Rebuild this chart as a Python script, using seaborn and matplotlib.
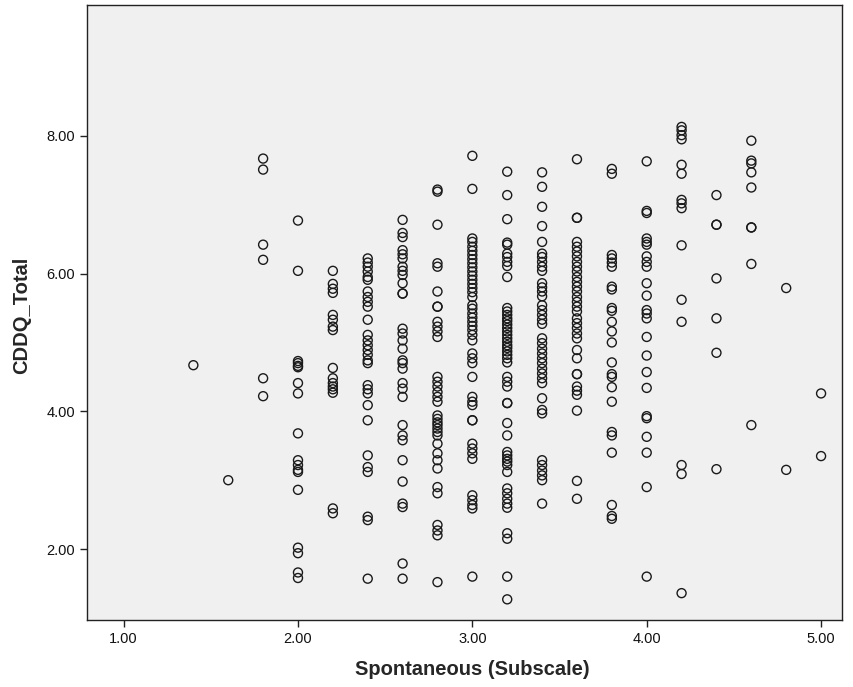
import numpy as np
import pandas as pd
import matplotlib
matplotlib.use("Agg")
import matplotlib.pyplot as plt
import seaborn as sns

# Spontaneous (Subscale) levels and CDDQ_Total values read from each column
x_levels = [1.4, 1.6, 1.8, 2.0, 2.2, 2.4, 2.6, 2.8, 3.0, 3.2, 3.4, 3.6, 3.8, 4.0, 4.2, 4.4, 4.6, 4.8, 5.0]

y_1_4 = [4.67]
y_1_6 = [3.00]
y_1_8 = [7.67, 7.51, 6.42, 6.20, 4.48, 4.22]
y_2_0 = [6.77, 6.04, 4.73, 4.70, 4.66, 4.64, 4.41, 4.26, 3.68, 3.29, 3.22, 3.15, 3.12,
         2.86, 2.02, 1.94, 1.66, 1.58]
y_2_2 = [6.04, 5.85, 5.78, 5.72, 5.40, 5.33, 5.23, 5.18, 4.63, 4.48, 4.41, 4.36, 4.32,
         4.27, 2.59, 2.52]
y_2_4 = [6.22, 6.16, 6.10, 6.03, 5.95, 5.91, 5.74, 5.66, 5.59, 5.52, 5.33, 5.11, 5.03,
         4.96, 4.89, 4.82, 4.74, 4.70, 4.38, 4.32, 4.26, 4.09, 3.87, 3.36, 3.19, 3.12,
         2.47, 2.42, 1.57]
y_2_6 = [6.78, 6.59, 6.53, 6.34, 6.28, 6.22, 6.10, 6.04, 5.98, 5.86, 5.71, 5.71, 5.20,
         5.13, 5.03, 4.91, 4.74, 4.70, 4.62, 4.41, 4.33, 4.21, 3.80, 3.65, 3.58, 3.29,
         2.98, 2.66, 2.61, 1.79, 1.57]
y_2_8 = [7.22, 7.19, 6.71, 6.15, 6.10, 5.74, 5.52, 5.52, 5.30, 5.23, 5.16, 5.08, 4.50,
         4.43, 4.36, 4.28, 4.21, 4.14, 3.94, 3.89, 3.84, 3.80, 3.75, 3.70, 3.65, 3.53,
         3.39, 3.29, 3.17, 2.90, 2.81, 2.35, 2.27, 2.20, 1.52]
y_3_0 = [7.71, 7.23, 6.51, 6.46, 6.39, 6.33, 6.27, 6.21, 6.15, 6.09, 6.03, 5.97, 5.91,
         5.85, 5.79, 5.73, 5.66, 5.54, 5.49, 5.42, 5.36, 5.30, 5.24, 5.18, 5.11, 5.03,
         4.84, 4.77, 4.70, 4.50, 4.21, 4.14, 4.09, 3.87, 3.87, 3.53, 3.46, 3.39, 3.31,
         2.78, 2.71, 2.64, 2.59, 1.60]
y_3_2 = [7.48, 7.14, 6.79, 6.45, 6.42, 6.29, 6.24, 6.17, 6.11, 5.95, 5.50, 5.45, 5.40,
         5.35, 5.31, 5.26, 5.21, 5.16, 5.11, 5.06, 5.01, 4.96, 4.92, 4.87, 4.82, 4.77,
         4.71, 4.50, 4.43, 4.36, 4.12, 4.12, 3.83, 3.65, 3.41, 3.36, 3.31, 3.27, 3.22,
         3.12, 2.88, 2.81, 2.73, 2.66, 2.60, 2.23, 2.15, 1.60, 1.27]
y_3_4 = [7.47, 7.26, 6.97, 6.69, 6.46, 6.29, 6.24, 6.17, 6.10, 6.04, 5.86, 5.80, 5.74,
         5.67, 5.54, 5.47, 5.40, 5.33, 5.27, 5.06, 4.99, 4.91, 4.84, 4.77, 4.70, 4.62,
         4.55, 4.48, 4.41, 4.19, 4.02, 3.97, 3.29, 3.22, 3.14, 3.07, 3.00, 2.66]
y_3_6 = [7.66, 6.81, 6.81, 6.46, 6.39, 6.32, 6.25, 6.17, 6.10, 6.03, 5.95, 5.88, 5.81,
         5.74, 5.66, 5.59, 5.52, 5.45, 5.35, 5.28, 5.21, 5.13, 5.06, 4.89, 4.77, 4.54,
         4.54, 4.36, 4.30, 4.24, 4.01, 2.99, 2.73]
y_3_8 = [7.52, 7.45, 6.27, 6.22, 6.16, 6.10, 5.81, 5.77, 5.50, 5.46, 5.30, 5.16, 5.00,
         4.71, 4.54, 4.50, 4.35, 4.14, 3.70, 3.65, 3.40, 2.64, 2.48, 2.44]
y_4_0 = [7.63, 6.91, 6.88, 6.51, 6.46, 6.42, 6.25, 6.17, 6.10, 5.86, 5.68, 5.47, 5.42,
         5.35, 5.08, 4.81, 4.57, 4.34, 3.93, 3.90, 3.63, 3.40, 2.90, 1.60]
y_4_2 = [8.13, 8.08, 8.01, 7.95, 7.58, 7.45, 7.07, 7.02, 6.95, 6.41, 5.62, 5.30, 3.22,
         3.09, 1.36]
y_4_4 = [7.14, 6.71, 6.71, 5.93, 5.35, 4.85, 3.16]
y_4_6 = [7.93, 7.64, 7.60, 7.47, 7.25, 6.67, 6.67, 6.14, 3.80]
y_4_8 = [5.79, 3.15]
y_5_0 = [4.26, 3.35]

columns = [y_1_4, y_1_6, y_1_8, y_2_0, y_2_2, y_2_4, y_2_6, y_2_8, y_3_0, y_3_2,
           y_3_4, y_3_6, y_3_8, y_4_0, y_4_2, y_4_4, y_4_6, y_4_8, y_5_0]

xs, ys = [], []
for xv, col in zip(x_levels, columns):
    xs.extend([xv] * len(col))
    ys.extend(col)
df = pd.DataFrame({"Spontaneous (Subscale)": xs, "CDDQ_Total": ys})

x_ticks = [1.0, 2.0, 3.0, 4.0, 5.0]
x_tick_labels = ["1.00", "2.00", "3.00", "4.00", "5.00"]
y_ticks = [2.0, 4.0, 6.0, 8.0]
y_tick_labels = ["2.00", "4.00", "6.00", "8.00"]

sns.set_style("ticks")
plt.rcParams["font.family"] = ["Liberation Sans", "DejaVu Sans"]

fig = plt.figure(figsize=(8.54, 6.87), dpi=100)
ax = fig.add_axes([87 / 854, 67 / 687, (842 - 87) / 854, (620 - 5) / 687])
ax.set_facecolor("#F0F0F0")

sns.scatterplot(data=df, x="Spontaneous (Subscale)", y="CDDQ_Total", ax=ax,
                marker="o", s=42, facecolors="none", edgecolor="#1a1a1a",
                linewidth=1.0)

ax.set_xlim(0.79, 5.12)
ax.set_ylim(0.97, 9.9)
ax.set_xticks(x_ticks)
ax.set_xticklabels(x_tick_labels)
ax.set_yticks(y_ticks)
ax.set_yticklabels(y_tick_labels)
ax.tick_params(axis="both", direction="out", length=5, width=1, colors="#222222",
               labelsize=10.5, labelcolor="#111111")
for sp in ax.spines.values():
    sp.set_visible(True)
    sp.set_color("#222222")
    sp.set_linewidth(1)

ax.set_xlabel("Spontaneous (Subscale)", fontsize=14.5, fontweight="bold")
ax.set_ylabel("CDDQ_Total", fontsize=14.5, fontweight="bold")
ax.xaxis.label.set_va("center")
ax.yaxis.label.set_va("center")
ax.xaxis.set_label_coords(0.511, -0.081)
ax.yaxis.set_label_coords(-0.0865, 0.496)

fig.savefig("out.png", dpi=100)
